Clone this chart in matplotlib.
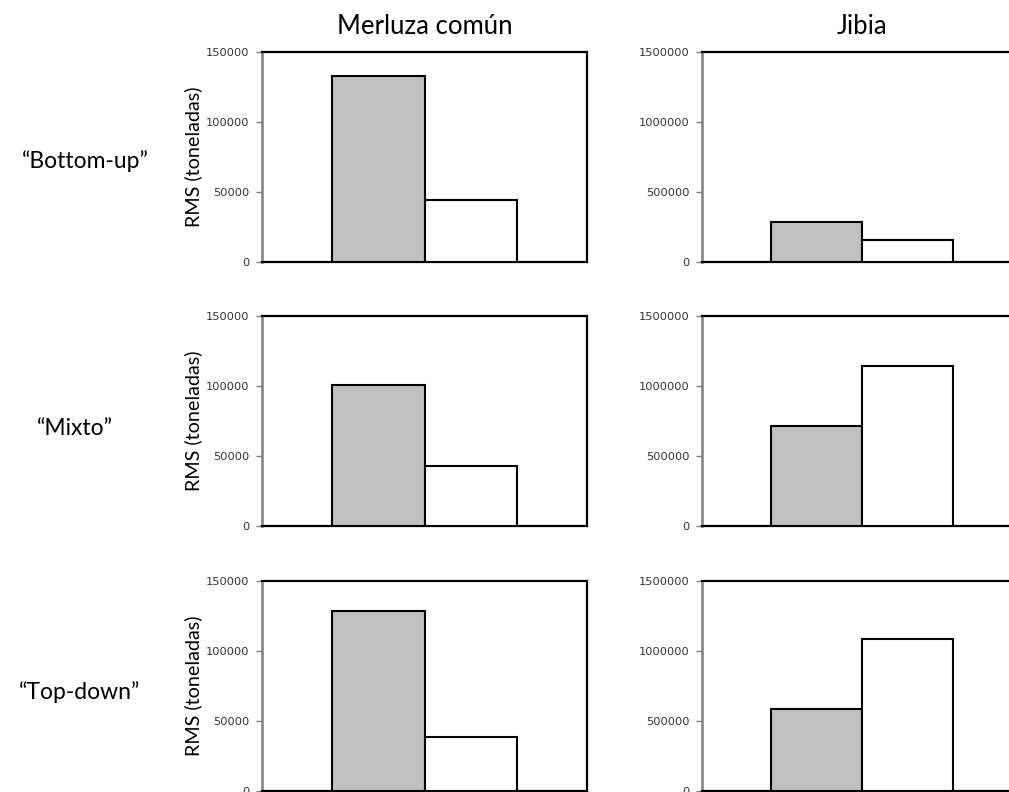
import matplotlib
matplotlib.use("Agg")
import matplotlib.pyplot as plt

# Data (RMS in tonnes)
species = ["Merluza común", "Jibia"]
approaches = ["“Bottom-up”", "“Mixto”", "“Top-down”"]
series_colors = ["#c0c0c0", "white"]

# one value per approach (rows): grey bar and white bar
merluza_grey = [132600, 100700, 128600]
merluza_white = [44000, 42400, 38100]
jibia_grey = [285700, 711000, 580500]
jibia_white = [155000, 1142000, 1082600]

y_max = [150000, 1500000]
y_ticks = [[0, 50000, 100000, 150000], [0, 500000, 1000000, 1500000]]

W, H = 1009, 792
fig = plt.figure(figsize=(W / 100, H / 100), dpi=100)

col_left = [262, 702]
col_w = [325, 320]
row_top = [51.7, 315.7, 580.7]
ax_h = 210

title_font = "Lato"
label_left = [22, 37, 19]
label_y = [161, 428, 692]

for r in range(3):
    for c in range(2):
        left = col_left[c] / W
        bottom = 1 - (row_top[r] + ax_h) / H
        ax = fig.add_axes([left, bottom, col_w[c] / W, ax_h / H])
        if c == 0:
            vals = [merluza_grey[r], merluza_white[r]]
        else:
            vals = [jibia_grey[r], jibia_white[r]]
        ax.bar([-0.142, 0.142], vals, width=0.284, color=series_colors,
               edgecolor="black", linewidth=1.5, zorder=3)
        ax.set_xlim(-0.5, 0.5)
        ax.set_ylim(0, y_max[c])
        ax.set_yticks(y_ticks[c])
        ax.set_yticklabels([str(t) for t in y_ticks[c]])
        ax.set_xticks([])
        ax.tick_params(axis="y", length=4, width=1, color="#808080",
                       labelsize=8.2, labelcolor="#333333", pad=5)
        for s in ["top", "right", "bottom"]:
            ax.spines[s].set_color("black")
            ax.spines[s].set_linewidth(1.6)
        ax.spines["left"].set_color("#808080")
        ax.spines["left"].set_linewidth(1.8)

        if r == 0:
            ax.set_title(species[c], fontsize=18.5, family=title_font, pad=13)
        if c == 0:
            ax.set_ylabel("RMS (toneladas)", fontsize=14.2, family=title_font)
            ax.yaxis.set_label_coords(-0.185, 0.5)

for r in range(3):
    fig.text(label_left[r] / W, 1 - label_y[r] / H, approaches[r],
             fontsize=16.5, family=title_font, ha="left", va="center")

fig.savefig("out.png", dpi=100)
